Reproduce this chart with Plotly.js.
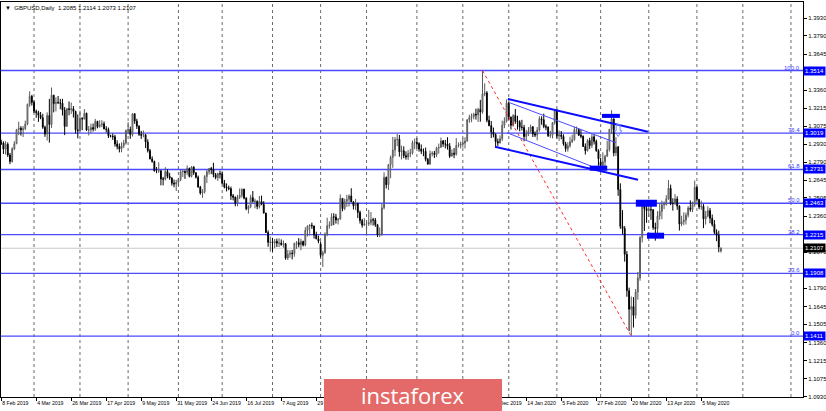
<!DOCTYPE html>
<html><head><meta charset="utf-8">
<script src="https://cdn.plot.ly/plotly-3.0.1.min.js"></script>
<style>html,body{margin:0;padding:0;background:#fff}#chart{width:826px;height:411px}</style>
</head><body><div id="chart"></div>
<script>
// ---- GBPUSD Daily, 8 Feb 2019 .. 18 May 2020 (one row per month) ----
const opens = [
1.2945,1.2940,1.2892,1.2930,1.2845,1.2794,1.2894,1.2935,1.3046,1.3058,1.3045,1.3053,1.3091,1.3247,1.3310,
1.3262,1.3191,1.3181,1.3160,1.3140,1.3065,1.3011,1.3158,1.3087,1.3319,1.3252,1.3262,1.3258,1.3256,1.3201,1.3072,1.3212,1.3205,1.3212,1.3191,1.3045,
1.3038,1.3135,1.3131,1.3176,1.3043,1.3044,1.3063,1.3050,1.3112,1.3069,1.3085,1.3092,1.3052,1.3047,1.2998,1.2994,1.2990,1.2932,1.2913,1.2894,1.2917,1.2941,
1.3038,1.3048,1.3008,1.3172,1.3114,1.3073,1.3009,1.3002,1.3006,1.2948,1.2880,1.2814,1.2793,1.2720,1.2719,1.2720,1.2655,1.2654,1.2714,1.2677,1.2663,1.2622,1.2616,
1.2628,1.2651,1.2712,1.2716,1.2706,1.2739,1.2676,1.2750,1.2705,1.2669,1.2591,1.2545,1.2555,1.2675,1.2712,1.2738,1.2732,1.2690,1.2666,1.2698,
1.2695,1.2622,1.2592,1.2585,1.2579,1.2522,1.2510,1.2462,1.2510,1.2525,1.2575,1.2504,1.2419,1.2435,1.2508,1.2478,1.2479,1.2438,1.2477,1.2454,1.2385,1.2232,1.2154,
1.2157,1.2150,1.2162,1.2147,1.2148,1.2136,1.2143,1.2030,1.2060,1.2068,1.2064,1.2146,1.2151,1.2135,1.2161,1.2132,1.2248,1.2282,1.2288,1.2284,1.2212,1.2182,
1.2140,1.2051,1.2072,1.2219,1.2285,1.2290,1.2356,1.2354,1.2331,1.2337,1.2502,1.2421,1.2479,1.2494,1.2521,1.2474,1.2443,1.2463,1.2391,1.2326,1.2290,
1.2298,1.2300,1.2310,1.2334,1.2330,1.2293,1.2212,1.2220,1.2427,1.2668,1.2610,1.2770,1.2826,1.2885,1.2967,1.2970,1.2871,1.2880,1.2840,1.2829,1.2856,1.2862,1.2944,
1.2946,1.2936,1.2892,1.2875,1.2874,1.2811,1.2774,1.2856,1.2860,1.2848,1.2900,1.2906,1.2957,1.2932,1.2932,1.2915,1.2836,1.2860,1.2851,1.2920,1.2923,
1.2933,1.2939,1.2956,1.3124,1.3143,1.3150,1.3168,1.3163,1.3207,1.3185,1.3329,1.3337,1.3120,1.3078,1.3028,1.3007,1.2952,1.2941,1.2974,1.3080,1.3113,
1.3256,1.3145,1.3080,1.3158,1.3113,1.3105,1.3066,1.3063,1.2991,1.3011,1.3035,1.3068,1.3012,1.3004,1.3043,1.3132,1.3124,1.3072,1.3066,1.2998,1.3002,1.3101,
1.3195,1.2997,1.3004,1.2993,1.2934,1.2895,1.2918,1.2950,1.2967,1.3046,1.3048,1.3002,1.2994,1.2913,1.2879,1.2960,1.2920,1.2990,1.2953,1.2880,
1.2790,1.2761,1.2792,1.2835,1.2888,1.3049,1.3131,1.2862,1.2909,1.2572,1.2281,1.2263,1.2059,1.1771,1.1624,1.1646,1.1575,1.1761,1.1872,1.2191,1.2455,1.2421,
1.2405,1.2414,1.2411,1.2271,1.2263,1.2362,1.2398,1.2451,1.2454,1.2498,1.2582,1.2461,1.2461,1.2497,1.2441,1.2298,1.2315,1.2330,1.2369,1.2426,1.2414,1.2453,
1.2589,1.2494,1.2434,1.2439,1.2339,1.2363,1.2405,1.2344,1.2296,1.2232,1.2210,1.2085
];
const highs = [
1.2966,1.2953,1.2955,1.2945,1.2862,1.2907,1.2955,1.3052,1.3109,1.3074,1.3075,1.3118,1.3252,1.3350,1.3321,
1.3276,1.3205,1.3196,1.3186,1.3172,1.3078,1.3183,1.3290,1.3380,1.3322,1.3302,1.3313,1.3290,1.3290,1.3225,1.3218,1.3269,1.3261,1.3233,1.3196,1.3166,
1.3197,1.3145,1.3209,1.3181,1.3075,1.3093,1.3095,1.3131,1.3116,1.3121,1.3121,1.3111,1.3074,1.3063,1.3006,1.3016,1.3005,1.2962,1.2937,1.2945,1.2966,1.3048,
1.3106,1.3070,1.3176,1.3176,1.3132,1.3081,1.3037,1.3039,1.3011,1.2970,1.2894,1.2835,1.2801,1.2750,1.2787,1.2725,1.2672,1.2749,1.2731,1.2704,1.2670,1.2651,1.2649,
1.2664,1.2727,1.2728,1.2724,1.2763,1.2746,1.2758,1.2757,1.2709,1.2683,1.2601,1.2575,1.2686,1.2727,1.2743,1.2751,1.2784,1.2703,1.2705,1.2722,
1.2715,1.2648,1.2620,1.2603,1.2595,1.2537,1.2518,1.2530,1.2580,1.2580,1.2578,1.2511,1.2449,1.2530,1.2560,1.2499,1.2486,1.2521,1.2524,1.2480,1.2388,1.2249,1.2200,
1.2190,1.2180,1.2183,1.2186,1.2177,1.2168,1.2147,1.2094,1.2092,1.2093,1.2151,1.2164,1.2187,1.2182,1.2167,1.2274,1.2289,1.2298,1.2310,1.2285,1.2238,1.2207,
1.2161,1.2088,1.2233,1.2349,1.2320,1.2384,1.2384,1.2379,1.2346,1.2533,1.2502,1.2499,1.2530,1.2533,1.2582,1.2480,1.2498,1.2467,1.2405,1.2340,1.2345,
1.2329,1.2411,1.2394,1.2348,1.2347,1.2300,1.2272,1.2460,1.2708,1.2675,1.2771,1.2842,1.2989,1.2988,1.3012,1.3004,1.2920,1.2914,1.2874,1.2885,1.2895,1.2960,1.2976,
1.2979,1.2946,1.2929,1.2897,1.2904,1.2822,1.2881,1.2875,1.2878,1.2911,1.2936,1.2984,1.2964,1.2965,1.2986,1.2940,1.2890,1.2900,1.2979,1.2945,1.2952,
1.2981,1.2986,1.3130,1.3164,1.3174,1.3180,1.3213,1.3219,1.3282,1.3514,1.3413,1.3352,1.3157,1.3115,1.3063,1.3017,1.2976,1.3001,1.3118,1.3144,1.3285,
1.3266,1.3150,1.3169,1.3210,1.3156,1.3121,1.3124,1.3084,1.3045,1.3066,1.3086,1.3075,1.3032,1.3067,1.3152,1.3152,1.3173,1.3088,1.3072,1.3037,1.3106,1.3206,
1.3211,1.3041,1.3035,1.3009,1.2950,1.2947,1.2990,1.3006,1.3069,1.3071,1.3052,1.3045,1.3000,1.2937,1.2971,1.2982,1.3011,1.3006,1.2968,1.2891,
1.2824,1.2867,1.2847,1.2959,1.3051,1.3200,1.3135,1.2987,1.2917,1.2621,1.2409,1.2282,1.2085,1.1795,1.1725,1.1720,1.1784,1.1919,1.2203,1.2486,1.2474,1.2485,
1.2484,1.2451,1.2417,1.2310,1.2400,1.2459,1.2484,1.2478,1.2528,1.2647,1.2611,1.2503,1.2535,1.2518,1.2447,1.2364,1.2391,1.2390,1.2441,1.2486,1.2476,1.2643,
1.2600,1.2496,1.2484,1.2457,1.2402,1.2439,1.2426,1.2374,1.2330,1.2257,1.2246,1.2114
];
const lows = [
1.2925,1.2853,1.2850,1.2829,1.2773,1.2785,1.2884,1.2931,1.3003,1.2999,1.2988,1.3043,1.3081,1.3227,1.3237,
1.3177,1.3140,1.3108,1.3129,1.3052,1.2989,1.2960,1.2943,1.3060,1.3183,1.3191,1.3252,1.3208,1.3158,1.3003,1.3070,1.3160,1.3170,1.3142,1.3015,1.2977,
1.3034,1.3042,1.3126,1.3036,1.3000,1.3018,1.3032,1.3037,1.3057,1.3062,1.3065,1.3050,1.3024,1.2980,1.2985,1.2965,1.2912,1.2890,1.2866,1.2867,1.2900,1.2928,
1.3011,1.2974,1.2992,1.3092,1.3051,1.2996,1.2973,1.2985,1.2900,1.2865,1.2811,1.2785,1.2714,1.2701,1.2704,1.2605,1.2605,1.2644,1.2661,1.2649,1.2603,1.2589,1.2560,
1.2601,1.2638,1.2671,1.2656,1.2686,1.2668,1.2668,1.2688,1.2659,1.2587,1.2531,1.2506,1.2540,1.2623,1.2690,1.2694,1.2669,1.2653,1.2640,1.2659,
1.2614,1.2581,1.2557,1.2566,1.2490,1.2486,1.2439,1.2439,1.2497,1.2508,1.2494,1.2408,1.2382,1.2424,1.2469,1.2423,1.2416,1.2422,1.2448,1.2386,1.2227,1.2119,1.2080,
1.2080,1.2107,1.2117,1.2117,1.2127,1.2112,1.2016,1.2014,1.2032,1.2019,1.2040,1.2102,1.2114,1.2091,1.2121,1.2122,1.2200,1.2208,1.2260,1.2184,1.2178,1.2146,
1.2033,1.1958,1.2063,1.2202,1.2262,1.2283,1.2290,1.2302,1.2295,1.2335,1.2400,1.2409,1.2435,1.2437,1.2473,1.2414,1.2408,1.2346,1.2302,1.2270,1.2283,
1.2206,1.2283,1.2289,1.2286,1.2276,1.2196,1.2195,1.2205,1.2415,1.2580,1.2568,1.2661,1.2744,1.2835,1.2915,1.2832,1.2810,1.2820,1.2809,1.2806,1.2828,1.2849,1.2891,
1.2897,1.2872,1.2853,1.2836,1.2795,1.2768,1.2767,1.2834,1.2821,1.2829,1.2856,1.2904,1.2910,1.2898,1.2888,1.2822,1.2834,1.2820,1.2840,1.2905,1.2898,
1.2904,1.2897,1.2951,1.3101,1.3105,1.3128,1.3126,1.3107,1.3109,1.3172,1.3311,1.3104,1.3073,1.2980,1.2985,1.2903,1.2917,1.2937,1.2957,1.3058,1.3103,
1.3125,1.3047,1.3070,1.3092,1.3047,1.3033,1.3040,1.2954,1.2961,1.2995,1.3022,1.2988,1.2987,1.2961,1.3031,1.3085,1.3058,1.3041,1.2988,1.2981,1.2977,1.3086,
1.2976,1.2957,1.2970,1.2919,1.2871,1.2872,1.2904,1.2940,1.2958,1.3016,1.2996,1.2978,1.2909,1.2849,1.2873,1.2893,1.2902,1.2929,1.2871,1.2760,
1.2725,1.2752,1.2725,1.2832,1.2873,1.3013,1.2835,1.2837,1.2522,1.2260,1.2216,1.2001,1.1723,1.1451,1.1411,1.1479,1.1550,1.1700,1.1850,1.2153,1.2244,1.2308,
1.2355,1.2332,1.2253,1.2167,1.2210,1.2333,1.2337,1.2416,1.2445,1.2491,1.2448,1.2405,1.2450,1.2411,1.2247,1.2281,1.2290,1.2295,1.2351,1.2396,1.2393,1.2435,
1.2476,1.2416,1.2411,1.2266,1.2294,1.2351,1.2305,1.2279,1.2219,1.2163,1.2075,1.2073
];
const closes = [
1.2940,1.2892,1.2930,1.2845,1.2794,1.2894,1.2935,1.3046,1.3058,1.3045,1.3053,1.3091,1.3247,1.3310,1.3262,
1.3191,1.3181,1.3160,1.3140,1.3065,1.3011,1.3158,1.3087,1.3319,1.3252,1.3262,1.3258,1.3256,1.3201,1.3072,1.3212,1.3205,1.3212,1.3191,1.3045,1.3038,
1.3135,1.3131,1.3176,1.3043,1.3044,1.3063,1.3050,1.3112,1.3069,1.3085,1.3092,1.3052,1.3047,1.2998,1.2994,1.2990,1.2932,1.2913,1.2894,1.2917,1.2941,1.3038,
1.3048,1.3008,1.3172,1.3114,1.3073,1.3009,1.3002,1.3006,1.2948,1.2880,1.2814,1.2793,1.2720,1.2719,1.2720,1.2655,1.2654,1.2714,1.2677,1.2663,1.2622,1.2616,1.2628,
1.2651,1.2712,1.2716,1.2706,1.2739,1.2676,1.2750,1.2705,1.2669,1.2591,1.2545,1.2555,1.2675,1.2712,1.2738,1.2732,1.2690,1.2666,1.2698,1.2695,
1.2622,1.2592,1.2585,1.2579,1.2522,1.2510,1.2462,1.2510,1.2525,1.2575,1.2504,1.2419,1.2435,1.2508,1.2478,1.2479,1.2438,1.2477,1.2454,1.2385,1.2232,1.2154,1.2157,
1.2150,1.2162,1.2147,1.2148,1.2136,1.2143,1.2030,1.2060,1.2068,1.2064,1.2146,1.2151,1.2135,1.2161,1.2132,1.2248,1.2282,1.2288,1.2284,1.2212,1.2182,1.2163,
1.2051,1.2072,1.2219,1.2285,1.2290,1.2356,1.2354,1.2331,1.2337,1.2502,1.2421,1.2479,1.2494,1.2521,1.2474,1.2443,1.2463,1.2391,1.2326,1.2290,1.2298,
1.2300,1.2310,1.2334,1.2330,1.2293,1.2212,1.2220,1.2427,1.2668,1.2610,1.2770,1.2826,1.2885,1.2967,1.2970,1.2871,1.2880,1.2840,1.2829,1.2856,1.2862,1.2944,1.2946,
1.2936,1.2892,1.2875,1.2874,1.2811,1.2774,1.2856,1.2860,1.2848,1.2900,1.2906,1.2957,1.2932,1.2932,1.2915,1.2836,1.2860,1.2851,1.2920,1.2923,1.2933,
1.2939,1.2956,1.3124,1.3143,1.3150,1.3168,1.3163,1.3207,1.3185,1.3329,1.3337,1.3120,1.3078,1.3028,1.3007,1.2952,1.2941,1.2974,1.3080,1.3113,1.3256,
1.3145,1.3080,1.3158,1.3113,1.3105,1.3066,1.3063,1.2991,1.3011,1.3035,1.3068,1.3012,1.3004,1.3043,1.3132,1.3124,1.3072,1.3066,1.2998,1.3002,1.3101,1.3195,
1.2997,1.3004,1.2993,1.2934,1.2895,1.2918,1.2950,1.2967,1.3046,1.3048,1.3002,1.2994,1.2913,1.2879,1.2960,1.2920,1.2990,1.2953,1.2880,1.2815,
1.2761,1.2792,1.2835,1.2888,1.3049,1.3131,1.2862,1.2909,1.2572,1.2281,1.2263,1.2059,1.1771,1.1624,1.1646,1.1575,1.1761,1.1872,1.2191,1.2455,1.2421,1.2405,
1.2414,1.2411,1.2271,1.2263,1.2362,1.2398,1.2451,1.2454,1.2498,1.2582,1.2461,1.2461,1.2497,1.2441,1.2298,1.2315,1.2330,1.2369,1.2426,1.2414,1.2453,1.2589,
1.2494,1.2434,1.2439,1.2339,1.2363,1.2405,1.2344,1.2296,1.2232,1.2210,1.2117,1.2107
];

// x-axis labels (one every 16 bars) and month-start bars (dotted grid)
const dateLabels = ['8 Feb 2019','4 Mar 2019','26 Mar 2019','17 Apr 2019','9 May 2019','31 May 2019','24 Jun 2019','16 Jul 2019','7 Aug 2019','29 Aug 2019','20 Sep 2019','14 Oct 2019','5 Nov 2019','27 Nov 2019','19 Dec 2019','14 Jan 2020','5 Feb 2020','27 Feb 2020','20 Mar 2020','13 Apr 2020','5 May 2020'];
const labelStep = 16;
const monthStartBars = [15,36,58,81,101,124,146,167,190,211,232,254,274,296,318,339,361];

// price scale labels (those hidden under the level boxes are left out)
const priceTicks = [1.3930,1.3790,1.3645,1.3360,1.3215,1.3075,1.2930,1.2790,1.2645,1.2505,1.2360,1.2075,1.1790,1.1645,1.1505,1.1360,1.1215,1.1075,1.0930];

// Fibonacci levels
const fibPrices = [1.3514,1.3019,1.2731,1.2463,1.2215,1.1908,1.1411];
const fibNames  = ['100.0','76.4','61.8','50.0','38.2','23.6','0.0'];
const fibBaseBars = [220,288];
const fibBasePrices = [1.3514,1.1411];

// channel drawing (bar index, price)
const chanUpperX = [231.6,295.6], chanUpperY = [1.3290,1.3029];
const chanLowerX = [225.7,291.1], chanLowerY = [1.2911,1.2650];
const thinAX = [232.5,281.0], thinAY = [1.3259,1.2943];
const thinBX = [231.2,273.7], thinBY = [1.3022,1.2729];

// blue marker boxes [x0,x1,yLow,yHigh]
const boxX0 = [274.6,269.0,290.1,295.2];
const boxX1 = [282.8,277.0,299.7,303.0];
const boxY0 = [1.3139,1.2721,1.2436,1.2183];
const boxY1 = [1.3171,1.2761,1.2491,1.2230];

// hollow arrow: centre bar, top, neck, tip prices
const arrowBar = 282.0, arrowPrices = [1.3085,1.3037,1.2992];

const bidPrice = closes[closes.length-1];
const bars = closes.map((_, i) => i);

const shapes = [];
monthStartBars.forEach(m => shapes.push({type:'line', xref:'x', yref:'paper', x0:m, x1:m, y0:0, y1:1,
  line:{color:'#6a6a6a', width:1, dash:'dot'}, layer:'below'}));
shapes.push({type:'line', xref:'paper', yref:'y', x0:0, x1:1, y0:bidPrice, y1:bidPrice,
  line:{color:'#c8c8c8', width:1}, layer:'below'});
fibPrices.forEach(p => shapes.push({type:'line', xref:'paper', yref:'y', x0:0, x1:1, y0:p, y1:p,
  line:{color:'#4a4aff', width:1.4}, layer:'below'}));
shapes.push({type:'line', xref:'x', yref:'y', x0:fibBaseBars[0], x1:fibBaseBars[1], y0:fibBasePrices[0], y1:fibBasePrices[1],
  line:{color:'#ff2a2a', width:1, dash:'dot'}, layer:'above'});
[[chanUpperX,chanUpperY,2],[chanLowerX,chanLowerY,2],[thinAX,thinAY,1],[thinBX,thinBY,1]].forEach(([xs,ys,w]) =>
  shapes.push({type:'line', xref:'x', yref:'y', x0:xs[0], x1:xs[1], y0:ys[0], y1:ys[1],
    line:{color: w>1 ? '#0c0cff' : '#4a4aff', width:w}, layer:'above'}));
boxX0.forEach((x0,i) => shapes.push({type:'rect', xref:'x', yref:'y', x0:x0, x1:boxX1[i], y0:boxY0[i], y1:boxY1[i],
  fillcolor:'#0000ff', line:{width:0}, layer:'above'}));
{
  const a = arrowBar, [t,n,tip] = arrowPrices, s = 0.9, h = 1.7;
  shapes.push({type:'path', xref:'x', yref:'y', layer:'above',
    path:`M${a-s},${t} L${a+s},${t} L${a+s},${n} L${a+h},${n} L${a},${tip} L${a-h},${n} L${a-s},${n} Z`,
    line:{color:'#6f8cff', width:1}, fillcolor:'rgba(255,255,255,0)'});
}
// watermark box
shapes.push({type:'rect', xref:'paper', yref:'paper', x0:0.4027, x1:0.6247, y0:-0.04, y1:0.0456,
  fillcolor:'#e46a6a', line:{width:0}, layer:'above'});

const annotations = [];
annotations.push({xref:'paper', yref:'paper', x:0, y:1, xanchor:'left', yanchor:'top', xshift:2, yshift:-1,
  text:'▼  GBPUSD,Daily  1.2085 1.2114 1.2073 1.2107', showarrow:false,
  font:{family:'Liberation Sans, Arial', size:6, color:'#000'}});
fibPrices.forEach((p,i) => annotations.push({xref:'paper', yref:'y', x:1, y:p, xanchor:'right', yanchor:'bottom',
  xshift:-1, yshift:-2, text:fibNames[i], showarrow:false,
  font:{family:'Liberation Sans, Arial', size:6, color:'#3c3cff'}}));
fibPrices.forEach(p => annotations.push({xref:'paper', yref:'y', x:1, y:p, xanchor:'left', yanchor:'middle',
  xshift:0, text:p.toFixed(4), showarrow:false, bgcolor:'#0000ff', borderpad:1,
  font:{family:'Liberation Sans, Arial', size:6, color:'#fff'}}));
annotations.push({xref:'paper', yref:'y', x:1, y:bidPrice, xanchor:'left', yanchor:'middle',
  xshift:0, text:bidPrice.toFixed(4), showarrow:false, bgcolor:'#000', borderpad:1,
  font:{family:'Liberation Sans, Arial', size:6, color:'#fff'}});
annotations.push({xref:'paper', yref:'paper', x:0.5137, y:0.005, xanchor:'center', yanchor:'middle',
  text:'instaforex', showarrow:false, font:{family:'Open Sans, sans-serif', size:22, color:'#fff'}});

const trace = {
  type:'candlestick', x:bars, open:opens, high:highs, low:lows, close:closes,
  increasing:{line:{color:'#5a5a5a', width:1}, fillcolor:'#d6d6d6'},
  decreasing:{line:{color:'#000', width:1}, fillcolor:'#000'},
  whiskerwidth:0, hoverinfo:'skip', showlegend:false
};

const layout = {
  width:826, height:411, paper_bgcolor:'#fff', plot_bgcolor:'#fff',
  margin:{l:1, r:23, t:2, b:14}, showlegend:false, boxgap:0.45,
  xaxis:{range:[-0.1,366.5], tickvals:dateLabels.map((_,i)=>i*labelStep), ticktext:dateLabels,
    ticks:'outside', ticklen:3, tickcolor:'#000', tickangle:0,
    ticklabelposition:'outside right', ticklabelstandoff:1,
    tickfont:{family:'Liberation Sans, Arial', size:5.2, color:'#000'},
    showgrid:false, zeroline:false, showline:true, linecolor:'#000', linewidth:1, mirror:true,
    rangeslider:{visible:false}, fixedrange:true},
  yaxis:{side:'right', range:[1.0929,1.4057], tickvals:priceTicks, ticktext:priceTicks.map(v=>v.toFixed(4)),
    ticks:'outside', ticklen:3, tickcolor:'#000',
    tickfont:{family:'Liberation Sans, Arial', size:6, color:'#000'},
    showgrid:false, zeroline:false, showline:true, linecolor:'#000', linewidth:1, mirror:true, fixedrange:true},
  shapes:shapes, annotations:annotations
};

Plotly.newPlot('chart', [trace], layout, {displayModeBar:false, staticPlot:true});
</script></body></html>
